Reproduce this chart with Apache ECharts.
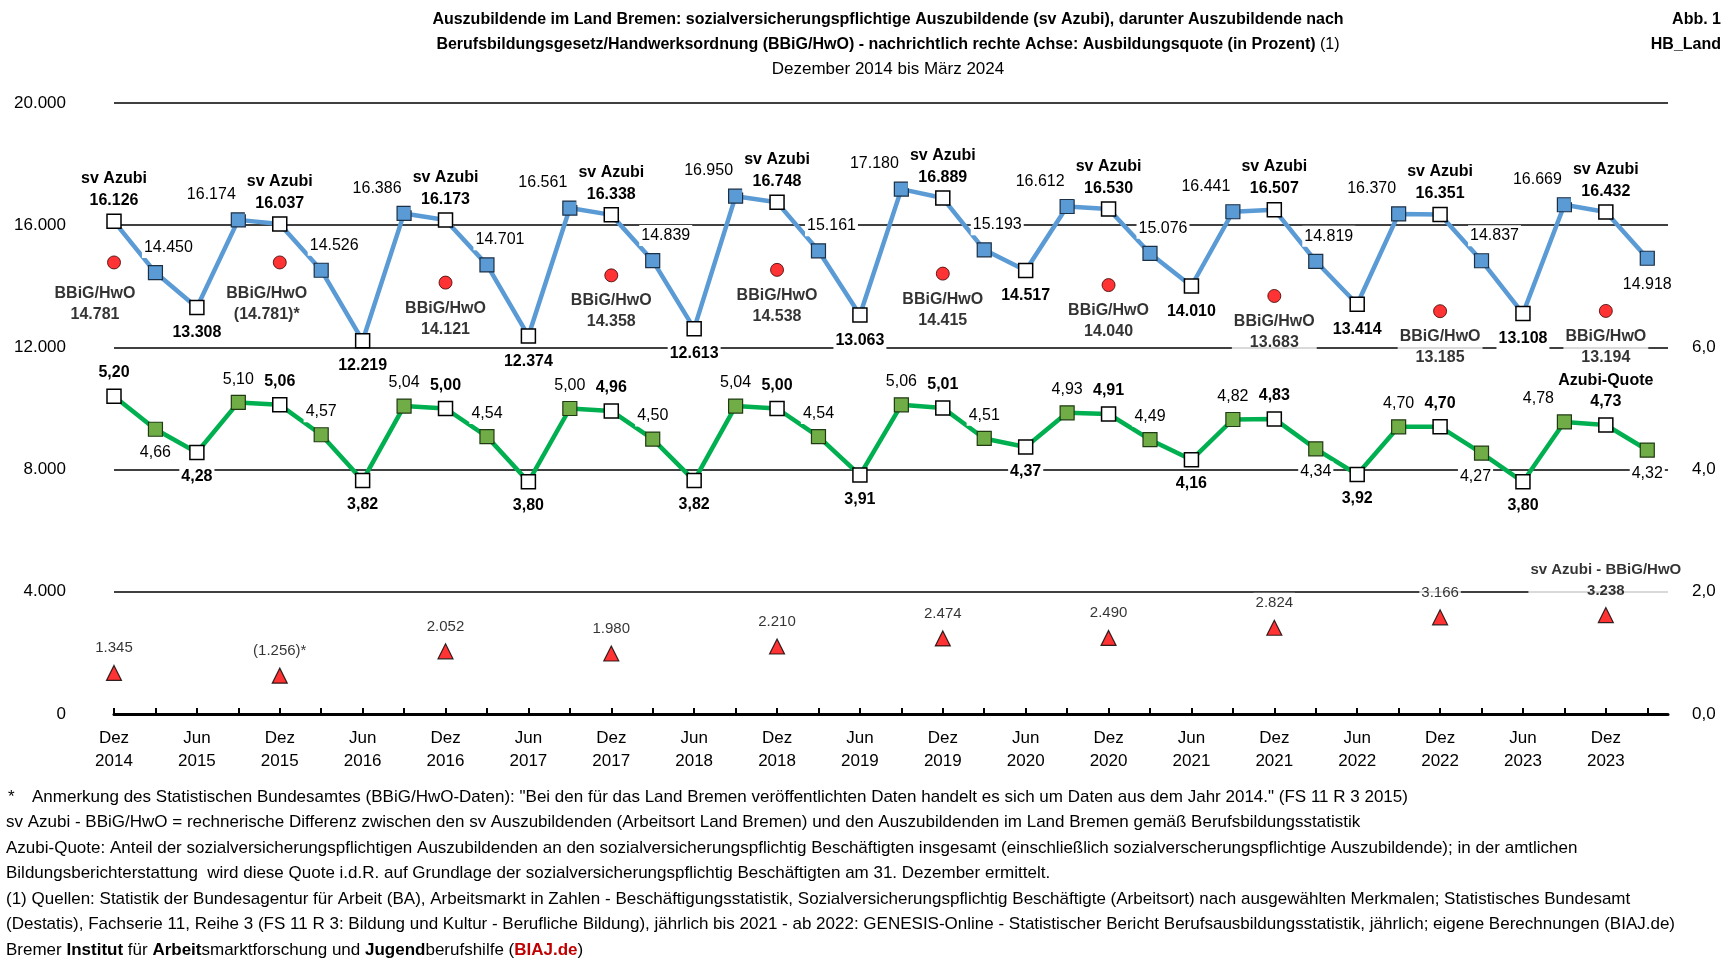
<!DOCTYPE html>
<html>
<head>
<meta charset="utf-8">
<script src="https://cdn.jsdelivr.net/npm/echarts@6/dist/echarts.min.js"></script>
<style>html,body{margin:0;padding:0;background:#fff}#c{width:1732px;height:961px}</style>
</head>
<body>
<div id="c"></div>
<script>
// ---------- DATA ----------
const quarters = ['Dez 2014','Mär 2015','Jun 2015','Sep 2015','Dez 2015','Mär 2016','Jun 2016','Sep 2016',
  'Dez 2016','Mär 2017','Jun 2017','Sep 2017','Dez 2017','Mär 2018','Jun 2018','Sep 2018',
  'Dez 2018','Mär 2019','Jun 2019','Sep 2019','Dez 2019','Mär 2020','Jun 2020','Sep 2020',
  'Dez 2020','Mär 2021','Jun 2021','Sep 2021','Dez 2021','Mär 2022','Jun 2022','Sep 2022',
  'Dez 2022','Mär 2023','Jun 2023','Sep 2023','Dez 2023','Mär 2024'];
const svAzubi = [16126,14450,13308,16174,16037,14526,12219,16386,16173,14701,12374,16561,16338,14839,12613,16950,
  16748,15161,13063,17180,16889,15193,14517,16612,16530,15076,14010,16441,16507,14819,13414,16370,
  16351,14837,13108,16669,16432,14918];
const azubiQuote = [5.20,4.66,4.28,5.10,5.06,4.57,3.82,5.04,5.00,4.54,3.80,5.00,4.96,4.50,3.82,5.04,
  5.00,4.54,3.91,5.06,5.01,4.51,4.37,4.93,4.91,4.49,4.16,4.82,4.83,4.34,3.92,4.70,
  4.70,4.27,3.80,4.78,4.73,4.32];
const bbigQuarters = ['Dez 2014','Dez 2015','Dez 2016','Dez 2017','Dez 2018','Dez 2019','Dez 2020','Dez 2021','Dez 2022','Dez 2023'];
const bbigHwO = [14781,14781,14121,14358,14538,14415,14040,13683,13185,13194];
const diffAzubi = [1345,1256,2052,1980,2210,2474,2490,2824,3166,3238];
const starredQuarters = ['Dez 2015']; // values in brackets with *
const leftTickLabels = ['0','4.000','8.000','12.000','16.000','20.000'];
const rightTickLabels = ['0,0','2,0','4,0','6,0'];

// ---------- STYLE ----------
const FONT = 'Liberation Sans, Arial, sans-serif';
const BLUE = '#5B9BD5', GREEN = '#00B050', GREEN_M = '#70AD47';
const fmtInt = n => String(n).replace(/\B(?=(\d{3})+(?!\d))/g, '.');
const fmtDec = v => v.toFixed(2).replace('.', ',');
const baseLabel = {show:true, color:'#000', fontFamily:FONT, fontSize:16, lineHeight:21,
  backgroundColor:'#fff', padding:[0,2]};
const openMarker = {color:'#fff', borderColor:'#000', borderWidth:1.5};

const lastIdx = quarters.length - 1;
const quoteBelow = {1:[0,0], 29:[0,0], 33:[-6,0], 37:[0,0]};
const bbigOffset = {0:[-19,6], 1:[-13,6]};

const svData = svAzubi.map((v, i) => {
  const k = i % 4; // 0 Dez, 1 Mär, 2 Jun, 3 Sep
  const open = (k === 0 || k === 2);
  let label;
  if (k === 0) label = {position:'top', distance:2, fontWeight:'bold', lineHeight:22, formatter:'sv Azubi\n' + fmtInt(v)};
  else if (k === 2) label = {position:'bottom', distance:7, fontWeight:'bold', formatter:fmtInt(v)};
  else if (k === 1) label = (i === lastIdx)
      ? {position:'bottom', distance:8, formatter:fmtInt(v)}
      : {position:'top', distance:7, offset:[13,0], formatter:fmtInt(v)};
  else label = {position:'top', distance:7, offset:[-27,0], formatter:fmtInt(v)};
  return {value:[i, v], itemStyle: open ? openMarker : {color:BLUE, borderColor:'#1b2f45', borderWidth:1.2},
    label: Object.assign({}, baseLabel, label)};
});

const quoteData = azubiQuote.map((v, i) => {
  const k = i % 4;
  const open = (k === 0 || k === 2);
  let label;
  if (k === 0) label = (i === lastIdx - 1)
      ? {position:'top', distance:5, fontWeight:'bold', formatter:'Azubi-Quote\n' + fmtDec(v)}
      : {position:'top', distance:5, fontWeight:'bold', formatter:fmtDec(v)};
  else if (k === 2) label = {position:'bottom', distance:6, fontWeight:'bold', formatter:fmtDec(v)};
  else if (k === 1) label = (i in quoteBelow)
      ? {position:'bottom', distance:5, offset:quoteBelow[i], formatter:fmtDec(v)}
      : {position:'top', distance:5, formatter:fmtDec(v)};
  else label = (i === 35)
      ? {position:'top', distance:5, offset:[-26,0], formatter:fmtDec(v)}
      : {position:'top', distance:5, formatter:fmtDec(v)};
  return {value:[i, v], itemStyle: open ? openMarker : {color:GREEN_M, borderColor:'#1f3a12', borderWidth:1.2},
    label: Object.assign({}, baseLabel, label)};
});

const bbigData = bbigHwO.map((v, j) => {
  const star = starredQuarters.includes(bbigQuarters[j]);
  const txt = star ? '(' + fmtInt(v) + ')*' : fmtInt(v);
  return {value:[quarters.indexOf(bbigQuarters[j]), v],
    label: Object.assign({}, baseLabel, {position:'bottom', distance:8, fontWeight:'bold',
      offset: bbigOffset[j] || [0,0], formatter:'BBiG/HwO\n' + txt})};
});

const diffData = diffAzubi.map((v, j) => {
  const star = starredQuarters.includes(bbigQuarters[j]);
  const txt = star ? '(' + fmtInt(v) + ')*' : fmtInt(v);
  const last = j === diffAzubi.length - 1;
  return {value:[quarters.indexOf(bbigQuarters[j]), v],
    label: Object.assign({}, baseLabel, last
      ? {position:'top', distance:6, fontWeight:'bold', fontSize:15, formatter:'sv Azubi - BBiG/HwO\n' + txt}
      : {position:'top', distance:6, fontSize:15, formatter:txt})};
});

// ---------- CHART ----------
const chart = echarts.init(document.getElementById('c'), null, {renderer:'canvas'});
const T = (x, y, text, opt) => ({type:'text', x, y, silent:true,
  style:Object.assign({text, fill:'#000', font:'15px ' + FONT, align:'left', verticalAlign:'middle'}, opt || {})});

const footY = [797, 822, 848, 873, 899, 924, 950];
const foot = [
  'sv Azubi - BBiG/HwO = rechnerische Differenz zwischen den sv Auszubildenden (Arbeitsort Land Bremen) und den Auszubildenden im Land Bremen gemäß Berufsbildungsstatistik',
  'Azubi-Quote: Anteil der sozialversicherungspflichtigen Auszubildenden an den sozialversicherungspflichtig Beschäftigten insgesamt (einschließlich sozialverscherungspflichtige Auszubildende); in der amtlichen',
  'Bildungsberichterstattung  wird diese Quote i.d.R. auf Grundlage der sozialversicherungspflichtig Beschäftigten am 31. Dezember ermittelt.',
  '(1) Quellen: Statistik der Bundesagentur für Arbeit (BA), Arbeitsmarkt in Zahlen - Beschäftigungsstatistik, Sozialversicherungspflichtig Beschäftigte (Arbeitsort) nach ausgewählten Merkmalen; Statistisches Bundesamt',
  '(Destatis), Fachserie 11, Reihe 3 (FS 11 R 3: Bildung und Kultur - Berufliche Bildung), jährlich bis 2021 - ab 2022: GENESIS-Online - Statistischer Bericht Berufsausbildungsstatistik, jährlich; eigene Berechnungen (BIAJ.de)'
];
const FF = '17px ' + FONT;
const TB = 'bold 16px ' + FONT;
const graphics = [
  T(888, 20, 'Auszubildende im Land Bremen: sozialversicherungspflichtige Auszubildende (sv Azubi), darunter Auszubildende nach', {font:TB, align:'center'}),
  T(888, 45, '{b|Berufsbildungsgesetz/Handwerksordnung (BBiG/HwO) - nachrichtlich rechte Achse: Ausbildungsquote (in Prozent)}{n| (1)}',
    {align:'center', rich:{b:{font:TB, fill:'#000'}, n:{font:'16px ' + FONT, fill:'#000'}}}),
  T(888, 69, 'Dezember 2014 bis März 2024', {font:'17px ' + FONT, align:'center'}),
  T(1721, 20, 'Abb. 1', {font:TB, align:'right'}),
  T(1721, 45, 'HB_Land', {font:TB, align:'right'}),
  T(8, footY[0], '*', {font:FF}),
  T(32, footY[0], 'Anmerkung des Statistischen Bundesamtes (BBiG/HwO-Daten): "Bei den für das Land Bremen veröffentlichten Daten handelt es sich um Daten aus dem Jahr 2014." (FS 11 R 3 2015)', {font:FF})
];
foot.forEach((t, i) => graphics.push(T(6, footY[i + 1], t, {font:FF})));
graphics.push(T(6, footY[6], '{n|Bremer }{b|Institut}{n| für }{b|Arbeit}{n|smarktforschung und }{b|Jugend}{n|berufshilfe (}{r|BIAJ.de}{n|)}',
  {rich:{n:{font:FF, fill:'#000'}, b:{font:'bold ' + FF, fill:'#000'}, r:{font:'bold ' + FF, fill:'#C00000'}}}));

chart.setOption({
  animation:false,
  backgroundColor:'#fff',
  grid:{left:114, right:64, top:103, bottom:247, outerBoundsMode:'none'},
  graphic:graphics,
  xAxis:{type:'value', min:0, max:37.5, interval:1,
    axisLine:{show:true, onZero:false, lineStyle:{color:'#000', width:3}},
    axisTick:{show:true, inside:true, length:6, lineStyle:{color:'#000', width:2}},
    splitLine:{show:false},
    axisLabel:{color:'#000', fontFamily:FONT, fontSize:17, lineHeight:23, margin:13,
      showMaxLabel:false,
      formatter: v => (Number.isInteger(v) && v % 2 === 0 && quarters[v]) ? quarters[v].replace(' ', '\n') : ''}},
  yAxis:[
    {type:'value', min:0, max:20000, interval:4000,
      axisLine:{show:false}, axisTick:{show:false},
      splitLine:{lineStyle:{color:'#000', width:1.6}},
      axisLabel:{color:'#000', fontFamily:FONT, fontSize:17, margin:48,
        formatter: v => leftTickLabels[Math.round(v / 4000)] || ''}},
    {type:'value', min:0, max:10, interval:2, position:'right',
      axisLine:{show:false}, axisTick:{show:false}, splitLine:{show:false},
      axisLabel:{color:'#000', fontFamily:FONT, fontSize:17, margin:24, align:'left',
        formatter: v => rightTickLabels[Math.round(v / 2)] || ''}}
  ],
  series:[
    {name:'sv Azubi', type:'line', yAxisIndex:0, data:svData, symbol:'rect', symbolSize:14,
      lineStyle:{color:BLUE, width:4.5}, itemStyle:{color:BLUE}, z:3},
    {name:'Azubi-Quote', type:'line', yAxisIndex:1, data:quoteData, symbol:'rect', symbolSize:14,
      lineStyle:{color:GREEN, width:4.5}, itemStyle:{color:GREEN_M}, z:3},
    {name:'BBiG/HwO', type:'scatter', yAxisIndex:0, data:bbigData, symbol:'circle', symbolSize:13,
      itemStyle:{color:'#FF0000', borderColor:'#3a0000', borderWidth:1}, z:4},
    {name:'sv Azubi - BBiG/HwO', type:'scatter', yAxisIndex:0, data:diffData, symbol:'triangle', symbolSize:[15,15],
      itemStyle:{color:'#FF0000', borderColor:'#000', borderWidth:1.2}, z:4}
  ]
});
</script>
</body>
</html>
